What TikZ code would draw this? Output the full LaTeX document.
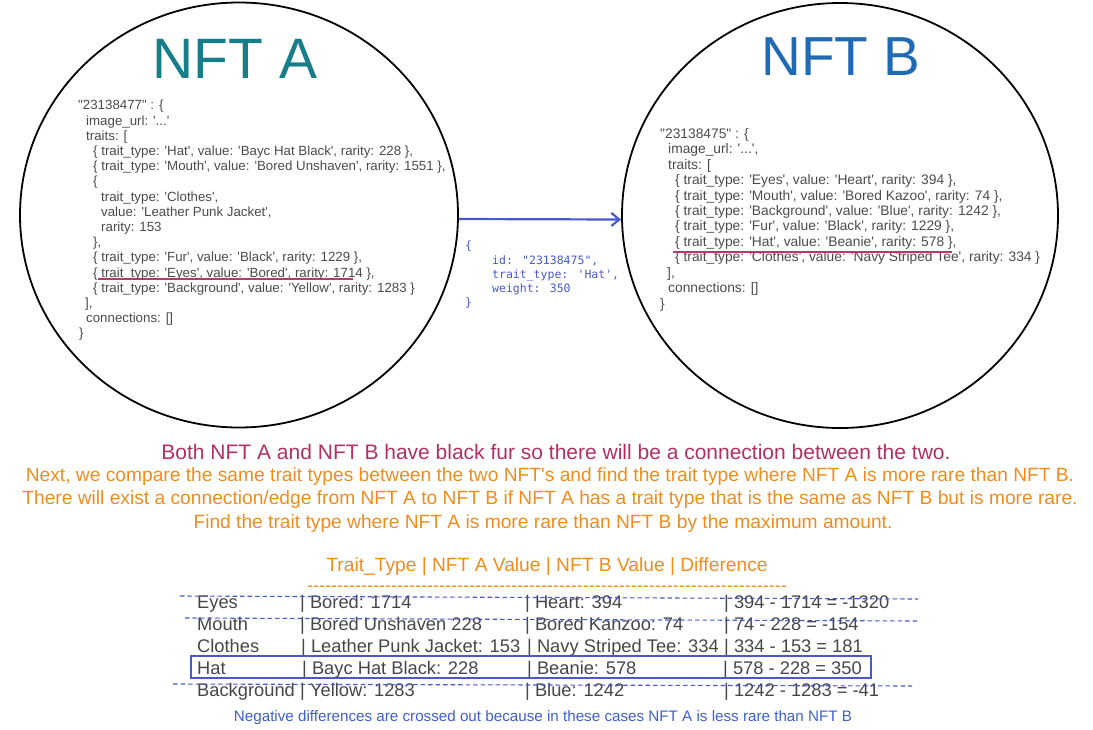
\documentclass[tikz,border=0pt]{standalone}
\usepackage{fontspec}
\setmainfont{Liberation Sans}
\newfontfamily\plainsans{Liberation Sans}[Ligatures=TeXOff]
\newfontfamily\monof{DejaVu Sans Mono}[Ligatures=TeXOff]
\usetikzlibrary{shapes.geometric,arrows.meta}
\definecolor{nftA}{RGB}{23,126,137}
\definecolor{nftB}{RGB}{32,106,181}
\definecolor{jsongray}{RGB}{75,75,75}
\definecolor{tablegray}{RGB}{70,70,70}
\definecolor{crimsonline}{RGB}{185,55,105}
\definecolor{crimsontext}{RGB}{176,48,100}
\definecolor{orangetext}{RGB}{240,140,30}
\definecolor{edgeblue}{RGB}{72,88,205}
\definecolor{noteblue}{RGB}{64,96,200}
\begin{document}
\begin{tikzpicture}[x=1pt,y=-1pt,
  circ/.style={draw=black, line width=1.8pt, ellipse, inner sep=0pt},
  title/.style={anchor=base, inner sep=0pt},
  json/.style={anchor=north west, inner sep=0pt, align=left, text=jsongray},
  mono/.style={anchor=north west, inner sep=0pt, align=left, text=edgeblue, font=\monof\fontsize{11.5}{14.25}\selectfont},
  para/.style={anchor=base, inner sep=0pt, font=\plainsans\fontsize{19.2}{23}\selectfont},
  cell/.style={anchor=base west, inner sep=0pt, text=tablegray, font=\plainsans\fontsize{18.3}{22}\selectfont},
  crossout/.style={draw=edgeblue, line width=1.1pt, dash pattern=on 4.5pt off 3pt},
  markline/.style={draw=crimsonline, line width=1.3pt}
]
\useasboundingbox (0,0) rectangle (1093,729);

% circles
\node[circ, minimum width=438pt, minimum height=425pt] (A) at (239,215) {};
\node[circ, minimum width=436pt, minimum height=425pt] (B) at (840,215.5) {};

% titles
\node[title, text=nftA, font=\plainsans\fontsize{57}{60}\selectfont] (tA) at (235,78) {NFT A};
\node[title, text=nftB, font=\plainsans\fontsize{55}{60}\selectfont] (tB) at (841,75) {NFT B};

% JSON A
\node[json, font=\plainsans\fontsize{13.3}{15.2}\selectfont] (jA) at (78,100) {%
"23138477" : \{\\
\hspace*{8pt}image\_url: '...'\\
\hspace*{8pt}traits: [\\
\hspace*{15pt}\{ trait\_type: 'Hat', value: 'Bayc Hat Black', rarity: 228 \},\\
\hspace*{15pt}\{ trait\_type: 'Mouth', value: 'Bored Unshaven', rarity: 1551 \},\\
\hspace*{15pt}\{\\
\hspace*{23pt}trait\_type: 'Clothes',\\
\hspace*{23pt}value: 'Leather Punk Jacket',\\
\hspace*{23pt}rarity: 153\\
\hspace*{15pt}\},\\
\hspace*{15pt}\{ trait\_type: 'Fur', value: 'Black', rarity: 1229 \},\\
\hspace*{15pt}\{ trait\_type: 'Eyes', value: 'Bored', rarity: 1714 \},\\
\hspace*{15pt}\{ trait\_type: 'Background', value: 'Yellow', rarity: 1283 \}\\
\hspace*{7pt}],\\
\hspace*{8pt}connections: []\\
\hspace*{1pt}\}};
\draw[markline] (98,279) -- (353,279);

% JSON B
\node[json, font=\plainsans\fontsize{13.8}{15.45}\selectfont] (jB) at (660,128) {%
"23138475" : \{\\
\hspace*{8pt}image\_url: '...',\\
\hspace*{8pt}traits: [\\
\hspace*{15pt}\{ trait\_type: 'Eyes', value: 'Heart', rarity: 394 \},\\
\hspace*{15pt}\{ trait\_type: 'Mouth', value: 'Bored Kazoo', rarity: 74 \},\\
\hspace*{15pt}\{ trait\_type: 'Background', value: 'Blue', rarity: 1242 \},\\
\hspace*{15pt}\{ trait\_type: 'Fur', value: 'Black', rarity: 1229 \},\\
\hspace*{15pt}\{ trait\_type: 'Hat', value: 'Beanie', rarity: 578 \},\\
\hspace*{15pt}\{ trait\_type: 'Clothes', value: 'Navy Striped Tee', rarity: 334 \}\\
\hspace*{7pt}],\\
\hspace*{8pt}connections: []\\
\hspace*{0pt}\}};
\draw[markline] (673,252) -- (952,252);

% connector
\draw[draw=edgeblue, line width=2.2pt, -{Straight Barb[length=8pt,width=13pt]}]
  ([yshift=-4pt]A.east) -- ([yshift=-4pt]B.west);
\node[mono] (lbl) at (465,241) {%
\{\\
\hspace*{27pt}id: "23138475",\\
\hspace*{27pt}trait\_type: 'Hat',\\
\hspace*{27pt}weight: 350\\
\}};

% explanation
\node[para, text=crimsontext, font=\plainsans\fontsize{21}{23}\selectfont] (p1) at (556,459) {Both NFT A and NFT B have black fur so there will be a connection between the two.};
\node[para, text=orangetext] (p2) at (550,481) {Next, we compare the same trait types between the two NFT's and find the trait type where NFT A is more rare than NFT B.};
\node[para, text=orangetext] (p3) at (550,504.5) {There will exist a connection/edge from NFT A to NFT B if NFT A has a trait type that is the same as NFT B but is more rare.};
\node[para, text=orangetext] (p4) at (543,528) {Find the trait type where NFT A is more rare than NFT B by the maximum amount.};

% table
\node[anchor=base, inner sep=0pt, text=orangetext, font=\plainsans\fontsize{19.2}{22}\selectfont] (th) at (547,571.5) {Trait\_Type | NFT A Value | NFT B Value | Difference};
\node[anchor=base, inner sep=0pt, text=orangetext, font=\plainsans\fontsize{18}{22}\selectfont] (thl) at (547,591) {%
--------------------------------------------------------------------------------};

\node[cell] (r1c1) at (197,608) {Eyes};
\node[cell] (r1c2) at (300,608) {| Bored: 1714};
\node[cell] (r1c3) at (525,608) {| Heart: 394};
\node[cell] (r1c4) at (724,608) {| 394 - 1714 = -1320};

\node[cell] (r2c1) at (197,630) {Mouth};
\node[cell] (r2c2) at (300,630) {| Bored Unshaven 228};
\node[cell] (r2c3) at (525,630) {| Bored Kanzoo: 74};
\node[cell] (r2c4) at (724,630) {| 74 - 228 = -154};

\node[cell] (r3c1) at (197,652) {Clothes};
\node[cell] (r3c2) at (301,652) {| Leather Punk Jacket: 153};
\node[cell] (r3c3) at (527,652) {| Navy Striped Tee: 334};
\node[cell] (r3c4) at (724,652) {| 334 - 153 = 181};

\node[cell] (r4c1) at (197,674) {Hat};
\node[cell] (r4c2) at (302,674) {| Bayc Hat Black: 228};
\node[cell] (r4c3) at (527,674) {| Beanie: 578};
\node[cell] (r4c4) at (723,674) {| 578 - 228 = 350};

\node[cell] (r5c1) at (197,696) {Background};
\node[cell] (r5c2) at (300,696) {| Yellow: 1283};
\node[cell] (r5c3) at (525,696) {| Blue: 1242};
\node[cell] (r5c4) at (724,696) {| 1242 - 1283 = -41};

\draw[draw=edgeblue, line width=1.1pt] (191,656) rectangle (871,678);
\draw[crossout] (180,596) -- (918,599);
\draw[crossout] (185,618) -- (918,621);
\draw[crossout] (173,684) -- (912,686);

\node[anchor=base, inner sep=0pt, text=noteblue, font=\plainsans\fontsize{15.2}{17}\selectfont] (note) at (543,721) {Negative differences are crossed out because in these cases NFT A is less rare than NFT B};
\end{tikzpicture}
\end{document}
